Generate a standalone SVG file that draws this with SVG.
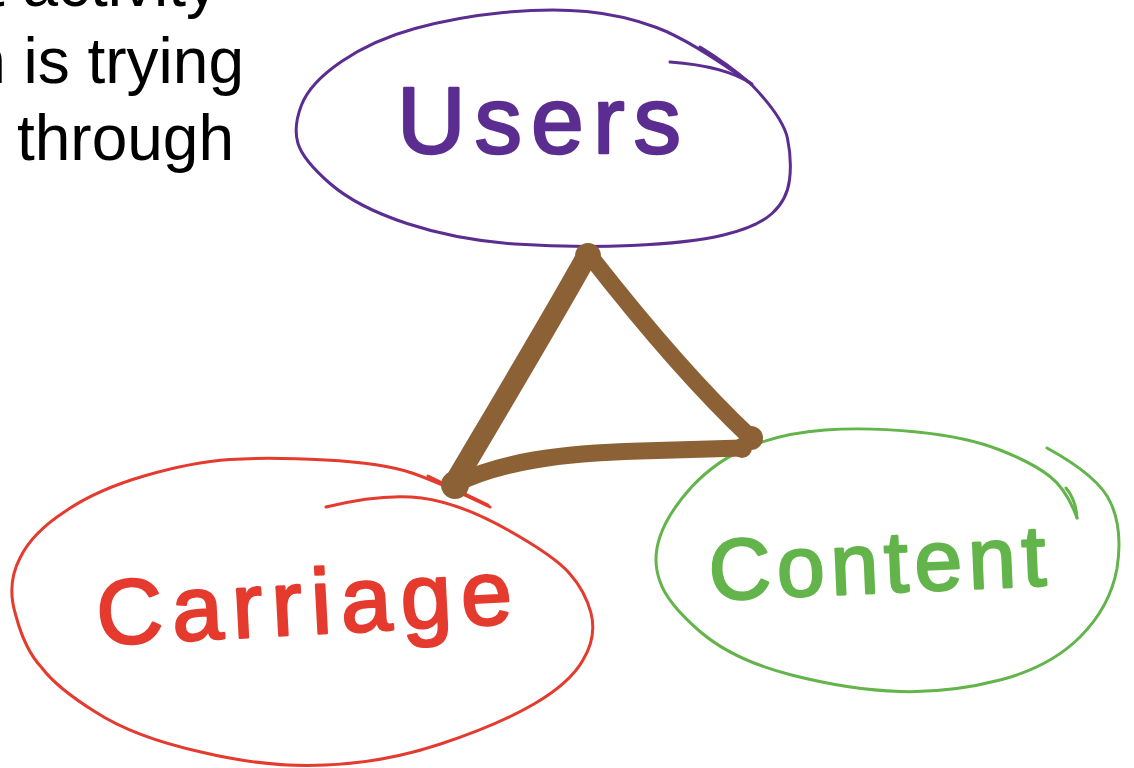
<svg xmlns="http://www.w3.org/2000/svg" width="1134" height="768" viewBox="0 0 1134 768">
<style>
.cap{font-family:"Liberation Sans",Arial,sans-serif;font-size:64px;fill:#000}
.loop{fill:none;stroke-width:3;stroke-linecap:round;stroke-linejoin:round}
.hand{font-family:"Liberation Sans",Arial,sans-serif;stroke-width:2.5;stroke-linejoin:round}
.tri{fill:none;stroke:#8D6136;stroke-linecap:round;stroke-linejoin:round}
</style>
<rect width="1134" height="768" fill="#fff"/>
<g id="caption">
<text class="cap" x="218" y="6" text-anchor="end">t activity</text>
<text class="cap" x="244" y="83" text-anchor="end">n is trying</text>
<text class="cap" x="234" y="160" text-anchor="end">through</text>
</g>
<g id="users">
<path class="loop" stroke="#5C2D91" d="M 750 83 Q 783 117 787.5 138.5 Q 792 160 789.5 180 Q 787 200 772 213.5 Q 757 227 723.5 235 Q 690 243 631.5 245.5 Q 573 248 515 244 Q 457 240 407 223.5 Q 357 207 330 183.5 Q 303 160 298 143.5 Q 293 127 301.5 105 Q 310 83 341.5 61.5 Q 373 40 415 28.5 Q 457 17 503.5 12.5 Q 550 8 586.5 11.5 Q 623 15 656.5 27.5 Q 690 40 750 83"/>
<path class="loop" stroke="#5C2D91" d="M 670 62 Q 725 66 752 84"/>
<path class="loop" stroke="#5C2D91" stroke-width="7" d="M 700 47 Q 728 64 751 84"/>
<text class="hand" x="397" y="153" font-size="95" letter-spacing="9" fill="#5C2D91" stroke="#5C2D91">Users</text>
</g>
<g id="carriage">
<path class="loop" stroke="#E53A2E" d="M 490 507 Q 441 483 412 473 Q 383 463 325.5 460 Q 268 457 230 459.5 Q 192 462 144 476 Q 96 490 65 511.5 Q 32 533 20 558 Q 6 585 16 616 Q 25 650 42 668 Q 57 688 95.5 712 Q 134 737 201 752 Q 268 768 325.5 765 Q 383 763 440.5 744 Q 498 725 534 704 Q 570 683 583 660 Q 597 637 591 613 Q 585 591 570 574 Q 556 557 508 530 Q 460 503 421.5 498 Q 383 493 326 507"/>
<path class="loop" stroke="#E53A2E" stroke-width="5" d="M 428 476 L 488 505"/>
<text class="hand" x="98" y="645" font-size="92" letter-spacing="9" fill="#E53A2E" stroke="#E53A2E" transform="rotate(-3 98 645)">Carriage</text>
</g>
<g id="content">
<path class="loop" stroke="#62B44B" d="M 1047 448 Q 1100 477 1111 503.5 Q 1123 530 1117 568.5 Q 1110 607 1080 637 Q 1050 667 1000 680 Q 950 693 900 691.5 Q 850 690 791.5 675 Q 733 660 700 631.5 Q 667 603 660 581.5 Q 652 560 660 536.5 Q 668 513 692 486.5 Q 717 460 750 446.5 Q 783 433 825 430 Q 867 427 917 432 Q 967 437 1000 450 Q 1033 463 1050 476.5 Q 1067 490 1077 518"/>
<path class="loop" stroke="#62B44B" stroke-width="7" d="M 1066 488 Q 1076 500 1077 518"/>
<text class="hand" x="710" y="600" font-size="86" letter-spacing="6" fill="#62B44B" stroke="#62B44B" transform="rotate(-2.5 710 600)">Content</text>
</g>
<g id="connectors">
<path class="tri" stroke-width="21" d="M 588 254 C 560 305 520 372 455 482"/>
<path class="tri" stroke-width="17" d="M 590 256 C 640 320 700 390 750 437"/>
<path class="tri" stroke-width="17" d="M 455 484 C 500 462 560 453 640 451 L 742 448"/>
<circle cx="588" cy="256" r="13" fill="#8D6136"/>
<circle cx="455" cy="485" r="14" fill="#8D6136"/>
<circle cx="751" cy="438" r="12" fill="#8D6136"/>
<circle cx="742" cy="448" r="10" fill="#8D6136"/>
</g>
</svg>
